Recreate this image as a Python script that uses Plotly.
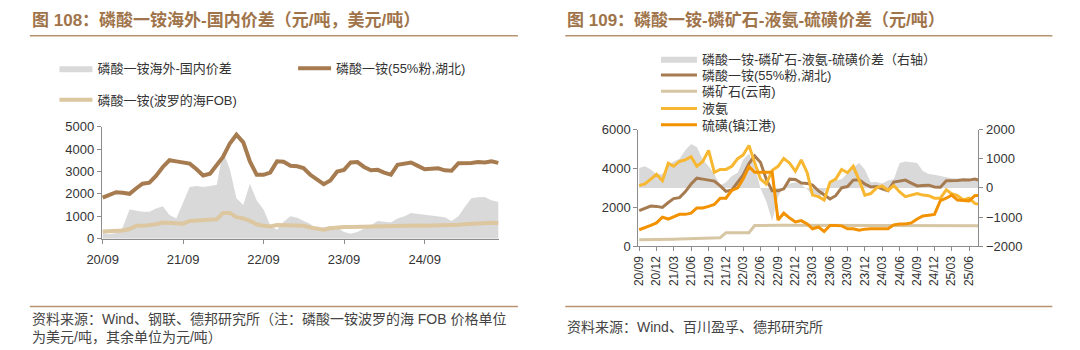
import pandas as pd
import plotly.graph_objects as go

# ---------------- data (monthly readings) ----------------
months = pd.date_range("2020-09-01", periods=60, freq="MS")

map_hubei = [1830, 1950, 2070, 2050, 2000, 2250, 2450, 2500, 2800, 3200,
             3500, 3450, 3380, 3350, 3100, 2820, 2900, 3300, 3650, 4250,
             4640, 4300, 3450, 2850, 2850, 2950, 3450, 3430, 3250, 3230,
             3150, 2850, 2640, 2430, 2600, 3000, 3070, 3400, 3420, 3200,
             3050, 3070, 2950, 2860, 3300, 3350, 3400, 3250, 3100, 3120,
             3140, 3050, 3030, 3370, 3370, 3380, 3420, 3400, 3450, 3380]

map_fob = [315, 330, 350, 360, 430, 570, 570, 600, 640, 715,
           700, 680, 670, 790, 800, 815, 840, 860, 1140, 1140,
           960, 900, 790, 640, 570, 540, 610, 610, 610, 600,
           570, 500, 430, 400, 460, 500, 520, 520, 530, 530,
           540, 540, 550, 560, 570, 580, 590, 590, 580, 580,
           580, 580, 600, 620, 640, 660, 690, 710, 710, 700]

spread_overseas = [250, 200, 250, 500, 1300, 1250, 1200, 1200, 1350, 1450,
                   1050, 900, 1600, 2300, 2350, 2300, 2350, 2400, 3900, 3100,
                   1800, 1500, 2450, 1700, 1300, 600, 400, 750, 1000, 930,
                   800, 650, 430, 500, 570, 500, 300, 220, 300, 450,
                   600, 790, 750, 720, 900, 1000, 1140, 1100, 1070, 1050,
                   1000, 950, 790, 1000, 1400, 1800, 1850, 1860, 1710, 1640]

rock_yunnan = [330, 330, 335, 340, 345, 350, 360, 370, 380, 390,
               400, 410, 420, 430, 440, 700, 700, 700, 700, 700,
               1070, 1080, 1080, 1080, 1080, 1080, 1080, 1080, 1080, 1080,
               1080, 1080, 1080, 1080, 1080, 1080, 1080, 1080, 1080, 1080,
               1080, 1050, 1050, 1050, 1050, 1050, 1050, 1050, 1050, 1050,
               1050, 1050, 1050, 1050, 1050, 1050, 1050, 1050, 1050, 1050]

ammonia = [3120, 3200, 3450, 3700, 3370, 4270, 4110, 4360, 4440, 4600,
           4110, 4360, 4930, 3800, 3950, 3950, 4110, 4500, 4690, 5180,
           4300, 3450, 3200, 3900, 4110, 4520, 4270, 3860, 4440, 3780,
           2630, 2550, 2380, 3290, 3450, 3950, 3780, 4110, 3400, 2630,
           2710, 3000, 3100, 2880, 3120, 2790, 2550, 2650, 2710, 2630,
           2600, 2470, 2470, 2900, 2700, 2600, 2380, 2470, 2200, 2140]

sulfur = [850, 950, 1070, 1200, 1500, 1400, 1500, 1640, 1640, 1700,
          1970, 1970, 2050, 2150, 2470, 2470, 2880, 3000, 3450, 4100,
          3800, 3800, 3800, 3800, 1350, 1700, 1450, 1250, 1320, 1150,
          900, 990, 760, 1070, 1070, 1050, 900, 900, 820, 880,
          900, 900, 900, 900, 1100, 1150, 1150, 1200, 1400, 1560,
          1600, 1640, 2350, 2470, 2630, 2380, 2350, 2330, 2600, 2630]

spread_chain = [685, 740, 630, 466, 466, 795, 905, 1000, 1290, 1507,
                1400, 960, 740, 466, 82, 192, 411, 520, 960, 1180,
                740, -27, -466, -1123, -300, 50, 150, 190, 120, -50,
                -250, -350, -150, 150, 250, 300, 500, 700, 850, 630,
                190, 200, 150, 250, 300, 850, 900, 870, 850, 580,
                480, 450, 410, 350, 330, 320, 300, 320, 310, 300]

# ---------------- style ----------------
W, H = 1080, 350
FONT = "Liberation Sans, Noto Sans CJK SC, sans-serif"
C_GRAY = "#D9D9D9"
C_BROWN = "#A67B50"
C_FOB = "#DCC7A0"
C_ROCK = "#D7C6A3"
C_NH3 = "#F7B731"
C_S = "#F39200"
C_TITLE = "#A0744A"
C_RULE = "#B89370"
C_AXIS = "#8C8C8C"
C_TXT = "#333333"


def px(x):
    return x / W


def py(y):
    return 1 - y / H


fig = go.Figure()

# ---- left chart ----
fig.add_trace(go.Scatter(x=months, y=spread_overseas, name="磷酸一铵海外-国内价差",
                         mode="lines", line=dict(width=0, color=C_GRAY),
                         fill="tozeroy", fillcolor=C_GRAY, showlegend=True,
                         xaxis="x", yaxis="y", legend="legend"))
fig.add_trace(go.Scatter(x=months, y=map_hubei, name="磷酸一铵(55%粉,湖北)",
                         mode="lines", line=dict(width=4, color=C_BROWN), showlegend=True,
                         xaxis="x", yaxis="y", legend="legend2"))
fig.add_trace(go.Scatter(x=months, y=map_fob, name="磷酸一铵(波罗的海FOB)",
                         mode="lines", line=dict(width=4, color=C_FOB), showlegend=True,
                         xaxis="x", yaxis="y", legend="legend3"))

# ---- right chart ----
fig.add_trace(go.Scatter(x=months, y=spread_chain, name="磷酸一铵-磷矿石-液氨-硫磺价差（右轴）",
                         mode="lines", line=dict(width=0, color=C_GRAY),
                         fill="tozeroy", fillcolor=C_GRAY, showlegend=True,
                         xaxis="x2", yaxis="y2", legend="legend4"))
fig.add_trace(go.Scatter(x=months, y=map_hubei, name="磷酸一铵(55%粉,湖北)",
                         mode="lines", line=dict(width=3, color=C_BROWN), showlegend=True,
                         xaxis="x2", yaxis="y3", legend="legend5"))
fig.add_trace(go.Scatter(x=months, y=rock_yunnan, name="磷矿石(云南)",
                         mode="lines", line=dict(width=3, color=C_ROCK), showlegend=True,
                         xaxis="x2", yaxis="y3", legend="legend6"))
fig.add_trace(go.Scatter(x=months, y=ammonia, name="液氨",
                         mode="lines", line=dict(width=3, color=C_NH3), showlegend=True,
                         xaxis="x2", yaxis="y3", legend="legend7"))
fig.add_trace(go.Scatter(x=months, y=sulfur, name="硫磺(镇江港)",
                         mode="lines", line=dict(width=3, color=C_S), showlegend=True,
                         xaxis="x2", yaxis="y3", legend="legend8"))

axis_common = dict(showline=True, linecolor=C_AXIS, linewidth=1, ticks="outside",
                   ticklen=4, tickcolor=C_AXIS, showgrid=False, zeroline=False,
                   tickfont=dict(family=FONT, size=13, color=C_TXT))

layout = dict(
    width=W, height=H, autosize=False, showlegend=True,
    margin=dict(l=0, r=0, t=0, b=0),
    paper_bgcolor="white", plot_bgcolor="white",
    font=dict(family=FONT, size=13, color=C_TXT),
    xaxis=dict(domain=[px(88), px(491)], anchor="y", type="date",
               range=["2020-08-28", "2025-08-05"], tick0="2020-09-01",
               dtick="M12", tickformat="%y/%m", ticklabelstandoff=5, **axis_common),
    yaxis=dict(domain=[py(242), py(125)], anchor="x", range=[0, 5000],
               dtick=1000, **axis_common),
    xaxis2=dict(domain=[px(632), px(977)], anchor="y2", type="date",
                range=["2020-08-27", "2025-07-20"], tick0="2020-09-01",
                dtick="M3", tickformat="%y/%m", tickangle=-90,
                **{**axis_common, "tickfont": dict(family=FONT, size=12, color=C_TXT)}),
    yaxis2=dict(domain=[py(250), py(128)], anchor="x2", side="right",
                range=[-2000, 2000], dtick=1000, **axis_common),
    yaxis3=dict(overlaying="y2", anchor="x2", side="left",
                range=[0, 6000], dtick=2000, **axis_common),
)


def leg(x, y, itemwidth=33):
    return dict(x=px(x), y=py(y), xanchor="left", yanchor="middle", visible=True,
                bgcolor="rgba(0,0,0,0)", borderwidth=0, itemwidth=itemwidth,
                font=dict(family=FONT, size=13, color=C_TXT))


layout["legend"] = leg(40, 64)
layout["legend2"] = leg(282, 64)
layout["legend3"] = leg(40, 97)
for i, yy in zip(range(4, 9), [54, 71, 88, 106, 123]):
    layout[f"legend{i}"] = leg(650, yy, 36)

fig.update_layout(**layout)

# titles
fig.add_annotation(x=px(15), y=py(14), xref="paper", yref="paper", xanchor="left",
                   yanchor="middle", showarrow=False,
                   text="<b>图 108：磷酸一铵海外-国内价差（元/吨，美元/吨）</b>",
                   font=dict(family=FONT, size=17, color=C_TITLE))
fig.add_annotation(x=px(558), y=py(14), xref="paper", yref="paper", xanchor="left",
                   yanchor="middle", showarrow=False,
                   text="<b>图 109：磷酸一铵-磷矿石-液氨-硫磺价差（元/吨）</b>",
                   font=dict(family=FONT, size=17, color=C_TITLE))
# sources
fig.add_annotation(x=px(15), y=py(335), xref="paper", yref="paper", xanchor="left",
                   yanchor="middle", showarrow=False, align="left",
                   text="资料来源：Wind、钢联、德邦研究所（注：磷酸一铵波罗的海 FOB 价格单位<br>为美元/吨，其余单位为元/吨）",
                   font=dict(family=FONT, size=14, color="#444444"))
fig.add_annotation(x=px(558), y=py(334), xref="paper", yref="paper", xanchor="left",
                   yanchor="middle", showarrow=False, align="left",
                   text="资料来源：Wind、百川盈孚、德邦研究所",
                   font=dict(family=FONT, size=14, color="#444444"))

# rules
for x0, x1 in [(15, 510), (558, 1052)]:
    for yy in [30, 313]:
        fig.add_shape(type="line", xref="paper", yref="paper",
                      x0=px(x0), x1=px(x1), y0=py(yy), y1=py(yy),
                      line=dict(color=C_RULE, width=1.5))

fig.write_html("out.html")
